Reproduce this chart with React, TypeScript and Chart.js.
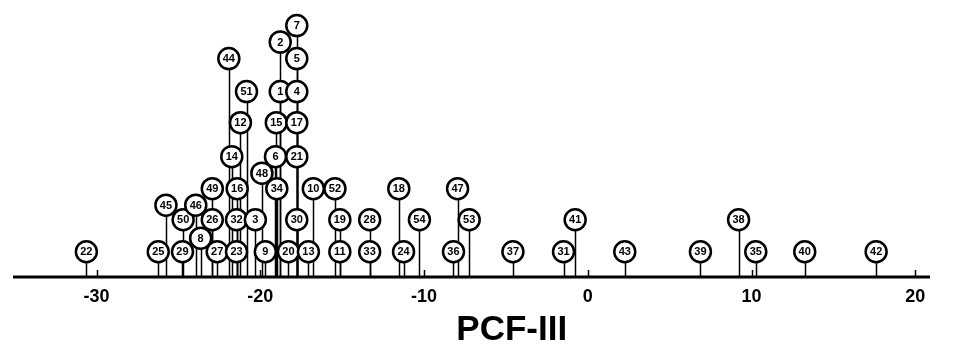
import React, { useEffect, useRef } from "react";
import { Chart, registerables } from "chart.js";

Chart.register(...registerables);

// compound numbers shown in the circles
const labels = [
  "22", "25", "45", "29", "50", "46", "8", "49", "26", "27",
  "44", "14", "23", "32", "16", "12", "51", "3", "48", "9",
  "6", "15", "34", "2", "1", "20", "7", "5", "4", "17",
  "21", "30", "13", "10", "52", "19", "11", "28", "33", "18",
  "24", "54", "47", "36", "53", "37", "31", "41", "43", "39",
  "38", "35", "40", "42",
];
// PCF-III score of each compound
const pcfValues = [
  -30.62, -26.23, -25.76, -24.75, -24.71, -23.94, -23.64, -22.93, -22.93, -22.63,
  -21.92, -21.74, -21.45, -21.45, -21.41, -21.21, -20.84, -20.3, -19.9, -19.69,
  -19.07, -19.02, -18.99, -18.78, -18.78, -18.28, -17.77, -17.77, -17.77, -17.77,
  -17.77, -17.77, -17.06, -16.76, -15.44, -15.14, -15.14, -13.32, -13.32, -11.54,
  -11.25, -10.28, -7.95, -8.2, -7.24, -4.57, -1.48, -0.77, 2.26, 6.88,
  9.21, 10.26, 13.25, 17.61,
];
// stacking height of each circle above the axis
const heights = [
  26, 26, 74, 26, 59, 74, 40, 91, 59, 26,
  225, 124, 26, 59, 91, 159, 191, 59, 107, 26,
  124, 159, 91, 242, 191, 26, 259, 225, 191, 159,
  124, 59, 26, 91, 91, 59, 26, 59, 26, 91,
  26, 59, 91, 26, 59, 26, 26, 59, 26, 26,
  59, 26, 26, 26,
];
const xMin = -35.1;
const xMax = 20.9;
const tickStep = 10;
const axisTitle = "PCF-III";

const FONT = "'Liberation Sans', Arial, sans-serif";

const stemsPlugin = {
  id: "stems",
  beforeDatasetsDraw(chart: any) {
    const { ctx, scales } = chart;
    const x = scales.x;
    const y = scales.y;
    const y0 = y.getPixelForValue(0);
    ctx.save();
    ctx.strokeStyle = "#000";
    ctx.lineWidth = 1.5;
    pcfValues.forEach((v, i) => {
      const px = Math.round(x.getPixelForValue(v)) + 0.5;
      ctx.beginPath();
      ctx.moveTo(px, y0);
      ctx.lineTo(px, y.getPixelForValue(heights[i]));
      ctx.stroke();
    });
    ctx.restore();
  },
  afterDatasetsDraw(chart: any) {
    const { ctx, scales, chartArea } = chart;
    const x = scales.x;
    const y = scales.y;
    const meta = chart.getDatasetMeta(0);
    ctx.save();
    ctx.fillStyle = "#000";
    ctx.textAlign = "center";
    ctx.textBaseline = "middle";
    ctx.font = `bold 11px ${FONT}`;
    meta.data.forEach((pt: any, i: number) => {
      ctx.fillText(labels[i], pt.x, pt.y + 0.5);
    });
    // axis line
    const y0 = y.getPixelForValue(0);
    ctx.strokeStyle = "#000";
    ctx.lineWidth = 3;
    ctx.beginPath();
    ctx.moveTo(chartArea.left, y0);
    ctx.lineTo(chartArea.right, y0);
    ctx.stroke();
    // inward ticks
    ctx.lineWidth = 1.5;
    x.ticks.forEach((t: any) => {
      const px = Math.round(x.getPixelForValue(t.value)) + 0.5;
      ctx.beginPath();
      ctx.moveTo(px, y0);
      ctx.lineTo(px, y0 - 7);
      ctx.stroke();
    });
    // axis title
    ctx.font = `bold 35px ${FONT}`;
    ctx.textBaseline = "alphabetic";
    ctx.fillText(axisTitle, chart.width * 0.532, 340);
    ctx.restore();
  },
};

export default function App() {
  const ref = useRef<HTMLCanvasElement>(null);
  useEffect(() => {
    const chart = new Chart(ref.current as HTMLCanvasElement, {
      type: "scatter",
      data: {
        datasets: [
          {
            data: pcfValues.map((v, i) => ({ x: v, y: heights[i] })),
            pointRadius: 10.5,
            pointBackgroundColor: "#fff",
            pointBorderColor: "#000",
            pointBorderWidth: 2.5,
          },
        ],
      },
      options: {
        animation: false,
        responsive: false,
        events: [],
        layout: { padding: { left: 8, right: 32, top: 5, bottom: 0 } },
        plugins: { legend: { display: false }, tooltip: { enabled: false } },
        scales: {
          x: {
            type: "linear",
            min: xMin,
            max: xMax,
            grid: { display: false, tickLength: 0 },
            border: { display: false },
            ticks: {
              stepSize: tickStep,
              includeBounds: false,
              padding: 9,
              color: "#000",
              font: { family: FONT, size: 18, weight: "bold" },
              callback: (v: any) => String(v),
            },
            afterFit: (s: any) => {
              s.height = 69;
            },
          },
          y: { display: false, min: 0, max: 272 },
        },
      },
      plugins: [stemsPlugin],
    });
    return () => chart.destroy();
  }, []);
  return (
    <div style={{ position: "absolute", left: 0, top: 0, width: 962, height: 346, background: "#fff" }}>
      <canvas ref={ref} width={962} height={346} />
    </div>
  );
}
